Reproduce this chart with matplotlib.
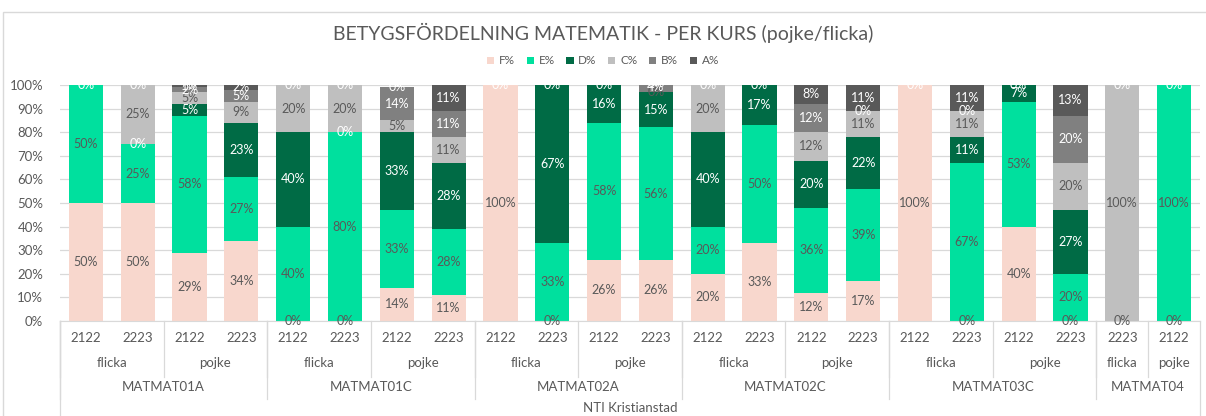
import numpy as np
import matplotlib
matplotlib.use("Agg")
import matplotlib.pyplot as plt
from matplotlib import transforms
from matplotlib.patches import Rectangle, Patch
from matplotlib.lines import Line2D

nan = np.nan

# ── Data ─────────────────────────────────────────────────────────────
years   = ["2122", "2223", "2122", "2223", "2122", "2223", "2122", "2223",
           "2122", "2223", "2122", "2223", "2122", "2223", "2122", "2223",
           "2122", "2223", "2122", "2223", "2223", "2122"]
genders = ["flicka", "pojke"] * 6
gender_sizes = [2, 2, 2, 2, 2, 2, 2, 2, 2, 2, 1, 1]
courses = ["MATMAT01A", "MATMAT01C", "MATMAT02A", "MATMAT02C", "MATMAT03C", "MATMAT04"]
course_sizes = [4, 4, 4, 4, 4, 2]
school = "NTI Kristianstad"

grades = ["F%", "E%", "D%", "C%", "B%", "A%"]
F = [50, 50, 29, 34, 0, 0, 14, 11, 100, 0, 26, 26, 20, 33, 12, 17, 100, 0, 40, 0, 0, 0]
E = [50, 25, 58, 27, 40, 80, 33, 28, nan, 33, 58, 56, 20, 50, 36, 39, nan, 67, 53, 20, nan, 100]
D = [0, 0, 5, 23, 40, 0, 33, 28, 0, 67, 16, 15, 40, 17, 20, 22, 0, 11, 7, 27, nan, 0]
C = [nan, 25, 5, 9, 20, 20, 5, 11, nan, nan, nan, 0, 20, nan, 12, 11, nan, 11, nan, 20, 100, nan]
B = [nan, 0, 2, 5, 0, 0, 14, 11, nan, 0, 0, 4, 0, nan, 12, 0, nan, 0, 0, 20, 0, nan]
A = [nan, nan, 1, 2, nan, nan, 0, 11, nan, nan, nan, 0, nan, 0, 8, 11, nan, 11, nan, 13, nan, nan]

series = [F, E, D, C, B, A]
colors = ["#f8d7cd", "#00e09e", "#006b45", "#bfbfbf", "#808080", "#595959"]
label_colors = ["#595959", "#595959", "white", "#595959", "white", "white"]

TXT = "#595959"
GRID = "#d9d9d9"
W, H = 1206, 416

plt.rcParams["font.family"] = ["Lato", "DejaVu Sans"]

fig = plt.figure(figsize=(W / 100, H / 100), dpi=100)
ax = fig.add_axes([60 / W, 1 - 321 / H, (1200 - 60) / W, (321 - 85) / H])

x = np.arange(len(years))
bottom = np.zeros(len(years))
for vals, col, lc in zip(series, colors, label_colors):
    v = np.array(vals, dtype=float)
    h = np.nan_to_num(v)
    ax.bar(x, h, bottom=bottom, width=0.66, color=col, zorder=2)
    for i in range(len(x)):
        if not np.isnan(v[i]):
            ax.text(x[i], bottom[i] + h[i] / 2, f"{int(round(v[i]))}%",
                    ha="center", va="center", fontsize=9, color=lc, zorder=3)
    bottom += h

ax.set_xlim(-0.5, len(x) - 0.5)
ax.set_ylim(0, 100)
ax.set_yticks(np.arange(0, 101, 10))
ax.set_yticklabels([f"{t}%" for t in range(0, 101, 10)], fontsize=9.5, color=TXT)
ax.tick_params(axis="y", length=0, pad=12)
ax.set_xticks([])
ax.grid(axis="y", color=GRID, linewidth=0.9, zorder=0)
for s in ["top", "right", "left"]:
    ax.spines[s].set_visible(False)
ax.spines["bottom"].set_color(GRID)

# ── Multi-level category axis ────────────────────────────────────────
tr = transforms.blended_transform_factory(ax.transData, fig.transFigure)

def fy(p):
    return 1 - p / H

def vline(xp, y0, y1):
    fig.add_artist(Line2D([xp, xp], [fy(y0), fy(y1)], transform=tr,
                          color=GRID, linewidth=0.9))

for i, yr in enumerate(years):
    fig.text(x[i], fy(338), yr, transform=tr, ha="center", va="center",
             fontsize=9.5, color=TXT)

pos = 0
for g, n in zip(genders, gender_sizes):
    fig.text(pos + (n - 1) / 2, fy(363), g, transform=tr, ha="center",
             va="center", fontsize=9.5, color=TXT)
    vline(pos - 0.5, 321, 377)
    pos += n

pos = 0
for c, n in zip(courses, course_sizes):
    fig.text(pos + (n - 1) / 2, fy(387), c, transform=tr, ha="center",
             va="center", fontsize=9.5, color=TXT)
    vline(pos - 0.5, 321, 399)
    pos += n
vline(pos - 0.5, 321, 416)
vline(-0.5, 321, 416)

fig.text((len(x) - 1) / 2, fy(408), school, transform=tr, ha="center",
         va="center", fontsize=9.5, color=TXT)

# ── Title, legend, border ────────────────────────────────────────────
fig.text(0.5, fy(33), "BETYGSFÖRDELNING MATEMATIK - PER KURS (pojke/flicka)",
         ha="center", va="center", fontsize=14, color=TXT)

handles = [Patch(facecolor=c, edgecolor="none") for c in colors]
fig.legend(handles, grades, loc="center", bbox_to_anchor=(0.5, fy(61)),
           ncol=6, frameon=False, fontsize=8.5, handlelength=0.6,
           handleheight=0.6, handletextpad=0.4, columnspacing=1.0,
           labelcolor=TXT)

fig.add_artist(Rectangle((3 / W, -0.01), 1.0, 1 - 12 / H + 0.01,
                         transform=fig.transFigure, fill=False,
                         edgecolor=GRID, linewidth=1.0))

fig.savefig("out.png", dpi=100)
